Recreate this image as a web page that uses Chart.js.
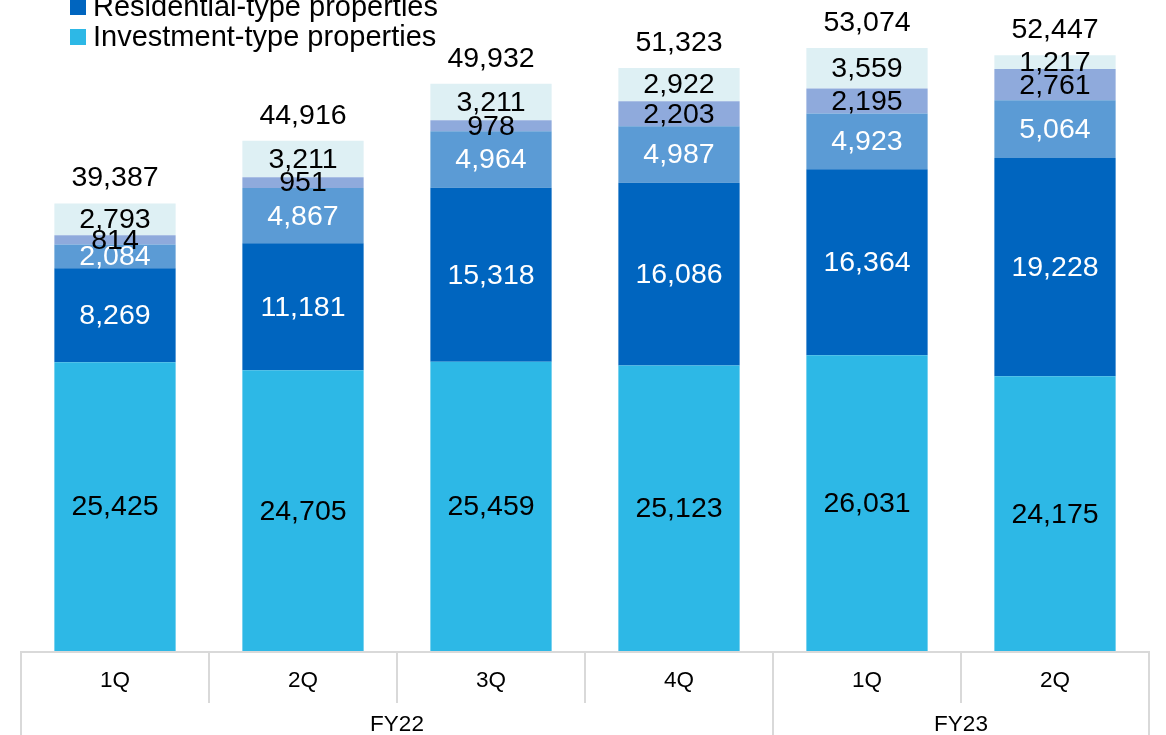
<!DOCTYPE html>
<html>
<head>
<meta charset="utf-8">
<script src="https://cdn.jsdelivr.net/npm/chart.js@4/dist/chart.umd.min.js"></script>
<style>
  html, body { margin: 0; padding: 0; background: #ffffff; }
  #wrap { width: 1166px; height: 735px; position: relative; }
</style>
</head>
<body>
<div id="wrap"><canvas id="chart"></canvas></div>
<script>
// quarters and fiscal years
const quarters = ["1Q", "2Q", "3Q", "4Q", "1Q", "2Q"];
const fiscalYears = ["FY22", "FY22", "FY22", "FY22", "FY23", "FY23"];

// series values (bottom to top)
const investment = [25425, 24705, 25459, 25123, 26031, 24175];
const residential = [8269, 11181, 15318, 16086, 16364, 19228];
const thirdSeries = [2084, 4867, 4964, 4987, 4923, 5064];
const fourthSeries = [814, 951, 978, 2203, 2195, 2761];
const topSeries = [2793, 3211, 3211, 2922, 3559, 1217];
// totals shown above each bar
const totals = [39387, 44916, 49932, 51323, 53074, 52447];

const seriesNames = [
  "Investment-type properties",
  "Residential-type properties",
  "Office-type properties",
  "Hotel-type properties",
  "Other properties",
];
const seriesColors = ["#2db8e6", "#0065bf", "#5b9bd5", "#8faadc", "#def0f4"];
const labelColors = ["#000000", "#ffffff", "#ffffff", "#000000", "#000000"];

const FONT = "'Liberation Sans', Arial, sans-serif";
const fmt = (v) => v.toLocaleString("en-US");

//labels inside segments, totals on top, legend and category axis
const drawExtras = {
  id: "drawExtras",
  afterDatasetsDraw(chart) {
    const ctx = chart.ctx;
    const area = chart.chartArea;
    ctx.save();
    ctx.textAlign = "center";
    ctx.textBaseline = "middle";
    ctx.font = "28.5px " + FONT;

    chart.data.datasets.forEach((ds, di) => {
      const meta = chart.getDatasetMeta(di);
      meta.data.forEach((bar, i) => {
        const y = (bar.y + bar.base) / 2;
        ctx.fillStyle = labelColors[di];
        ctx.fillText(fmt(ds.data[i]), bar.x, y + 1);
      });
    });

    //totals
    const topMeta = chart.getDatasetMeta(chart.data.datasets.length - 1);
    topMeta.data.forEach((bar, i) => {
      ctx.fillStyle = "#000000";
      ctx.fillText(fmt(totals[i]), bar.x, bar.y - 25);
    });

    //legend (top series first)
    ctx.textAlign = "left";
    ctx.font = "29px " + FONT;
    for (let k = 0; k < seriesNames.length; k++) {
      const idx = seriesNames.length - 1 - k;
      const cy = 37 - (seriesNames.length - 1 - k) * 30;
      ctx.fillStyle = seriesColors[idx];
      ctx.fillRect(70, cy - 8, 16, 16);
      ctx.fillStyle = "#000000";
      ctx.fillText(seriesNames[idx], 93, cy + 1);
    }

    //category axis boxes
    const xs = chart.scales.x;
    const left = area.left;
    const right = area.right;
    const step = (right - left) / quarters.length;
    ctx.strokeStyle = "#d9d9d9";
    ctx.lineWidth = 2;
    ctx.beginPath();
    ctx.moveTo(left, area.bottom + 1);
    ctx.lineTo(right, area.bottom + 1);
    ctx.stroke();
    for (let i = 0; i <= quarters.length; i++) {
      const x = Math.round(left + i * step);
      const fyEdge = i === 0 || i === quarters.length || fiscalYears[i] !== fiscalYears[i - 1];
      ctx.beginPath();
      ctx.moveTo(x, area.bottom);
      ctx.lineTo(x, fyEdge ? 735 : 703);
      ctx.stroke();
    }
    ctx.fillStyle = "#000000";
    ctx.font = "22.5px " + FONT;
    ctx.textAlign = "center";
    quarters.forEach((q, i) => {
      ctx.fillText(q, xs.getPixelForValue(i), 681);
    });
    //fiscal year labels centred over their quarters
    let start = 0;
    for (let i = 1; i <= fiscalYears.length; i++) {
      if (i === fiscalYears.length || fiscalYears[i] !== fiscalYears[start]) {
        const cx = (left + start * step + left + i * step) / 2;
        ctx.fillText(fiscalYears[start], cx, 725);
        start = i;
      }
    }
    ctx.restore();
  },
};

const seriesData = [investment, residential, thirdSeries, fourthSeries, topSeries];

new Chart(document.getElementById("chart"), {
  type: "bar",
  plugins: [drawExtras],
  data: {
    labels: quarters,
    datasets: seriesData.map((d, i) => ({
      label: seriesNames[i],
      data: d,
      backgroundColor: seriesColors[i],
      borderWidth: 0,
      barPercentage: 0.645,
      categoryPercentage: 1,
    })),
  },
  options: {
    responsive: true,
    maintainAspectRatio: false,
    animation: false,
    layout: { padding: { left: 21, right: 17, top: 0, bottom: 84 } },
    plugins: { legend: { display: false }, tooltip: { enabled: false } },
    scales: {
      x: { stacked: true, display: false },
      y: { stacked: true, display: false, min: 0, max: 57300 },
    },
  },
});
</script>
</body>
</html>
